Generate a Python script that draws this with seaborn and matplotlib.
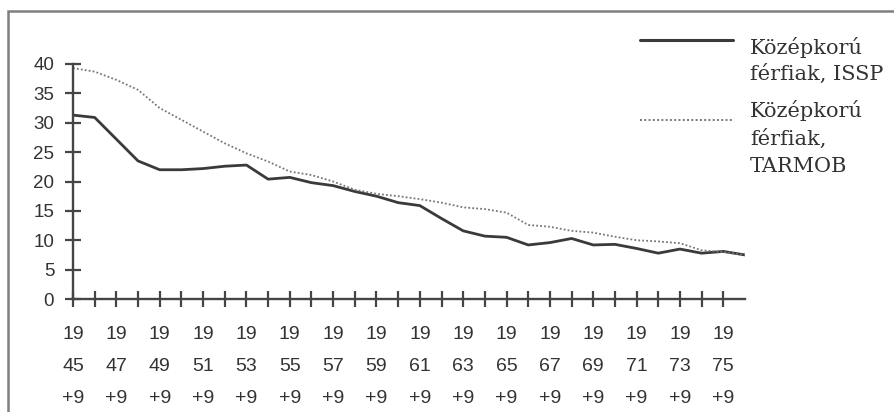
import matplotlib
matplotlib.use("Agg")
import matplotlib.pyplot as plt
import numpy as np
import pandas as pd
import seaborn as sns
from matplotlib.lines import Line2D
from matplotlib.patches import Rectangle

# Birth cohorts (start year of each 10-year window)
cohort_years = list(range(1945, 1977))

# Middle-aged men, ISSP
issp = [31.3, 30.9, 27.2, 23.5, 22.0, 22.0, 22.2, 22.6, 22.8, 20.4, 20.7, 19.8,
        19.3, 18.3, 17.5, 16.4, 15.9, 13.7, 11.6, 10.7, 10.5, 9.2, 9.6, 10.3,
        9.2, 9.3, 8.6, 7.8, 8.5, 7.8, 8.1, 7.5]

# Middle-aged men, TARMOB
tarmob = [39.3, 38.7, 37.3, 35.6, 32.5, 30.5, 28.5, 26.5, 24.8, 23.4, 21.7, 21.1,
          20.0, 18.6, 17.9, 17.5, 17.0, 16.4, 15.6, 15.3, 14.7, 12.6, 12.3, 11.6,
          11.3, 10.6, 10.0, 9.8, 9.5, 8.3, 8.0, 7.5]

series_names = ["Középkorú\nférfiak, ISSP", "Középkorú\nférfiak,\nTARMOB"]
y_ticks = [0, 5, 10, 15, 20, 25, 30, 35, 40]

sns.set_theme(style="white")
plt.rcParams["font.family"] = ["Liberation Sans", "DejaVu Sans"]

pos = np.arange(len(cohort_years))
df = pd.DataFrame({
    "pos": np.concatenate([pos, pos]),
    "value": issp + tarmob,
    "series": [series_names[0]] * len(pos) + [series_names[1]] * len(pos),
})

fig = plt.figure(figsize=(8.94, 4.12), dpi=100)
ax = fig.add_axes([73 / 894, 113 / 412, (745 - 73) / 894, (299 - 64) / 412])

line_col = "#3a3a3a"
dot_col = "#777777"
sns.lineplot(data=df[df.series == series_names[0]], x="pos", y="value", ax=ax,
             color=line_col, linewidth=2.0, legend=False)
sns.lineplot(data=df[df.series == series_names[1]], x="pos", y="value", ax=ax,
             color=dot_col, linewidth=1.3, linestyle=(0, (1, 1.2)), legend=False)

ax.set_xlim(0, len(cohort_years) - 1)
ax.set_ylim(0, 40)
ax.set_xlabel("")
ax.set_ylabel("")

spine_col = "#454545"
for side in ["top", "right"]:
    ax.spines[side].set_visible(False)
for side in ["left", "bottom"]:
    ax.spines[side].set_color(spine_col)
    ax.spines[side].set_linewidth(1.7)

tick_pos = pos[:-1]
tick_labels = [f"19\n{y % 100:02d}\n+9" if i % 2 == 0 else ""
               for i, y in enumerate(cohort_years[:-1])]
ax.set_xticks(tick_pos)
ax.set_xticklabels(tick_labels, linespacing=2.15)
ax.set_yticks(y_ticks)
ax.set_yticklabels([str(v) for v in y_ticks])

text_col = "#333333"
ax.tick_params(axis="x", direction="inout", length=11, width=1.6, color=spine_col,
               labelsize=14, labelcolor=text_col, pad=14, bottom=True)
ax.tick_params(axis="y", direction="inout", length=11, width=1.6, color=spine_col,
               labelsize=13.5, labelcolor=text_col, pad=8, left=True)
ax.grid(False)

# Legend drawn in figure coordinates
def fx(px):
    return px / 894

def fy(py):
    return 1 - py / 412

fig.add_artist(Line2D([fx(640), fx(733)], [fy(40), fy(40)], color=line_col, linewidth=2.2))
fig.add_artist(Line2D([fx(640), fx(733)], [fy(120), fy(120)], color=dot_col,
                      linewidth=1.4, linestyle=(0, (1, 1.2))))
fig.text(fx(750), fy(37), series_names[0], family=["DejaVu Serif"], fontsize=15,
         color=text_col, va="top", ha="left", linespacing=1.35)
fig.text(fx(750), fy(100), series_names[1], family=["DejaVu Serif"], fontsize=15,
         color=text_col, va="top", ha="left", linespacing=1.5)

# Outer frame
fig.add_artist(Rectangle((fx(8), -0.2), 1.5, fy(10.7) + 0.2, fill=False,
                         edgecolor="#7f7f7f", linewidth=1.8,
                         transform=fig.transFigure))

fig.savefig("out.png", dpi=100)
